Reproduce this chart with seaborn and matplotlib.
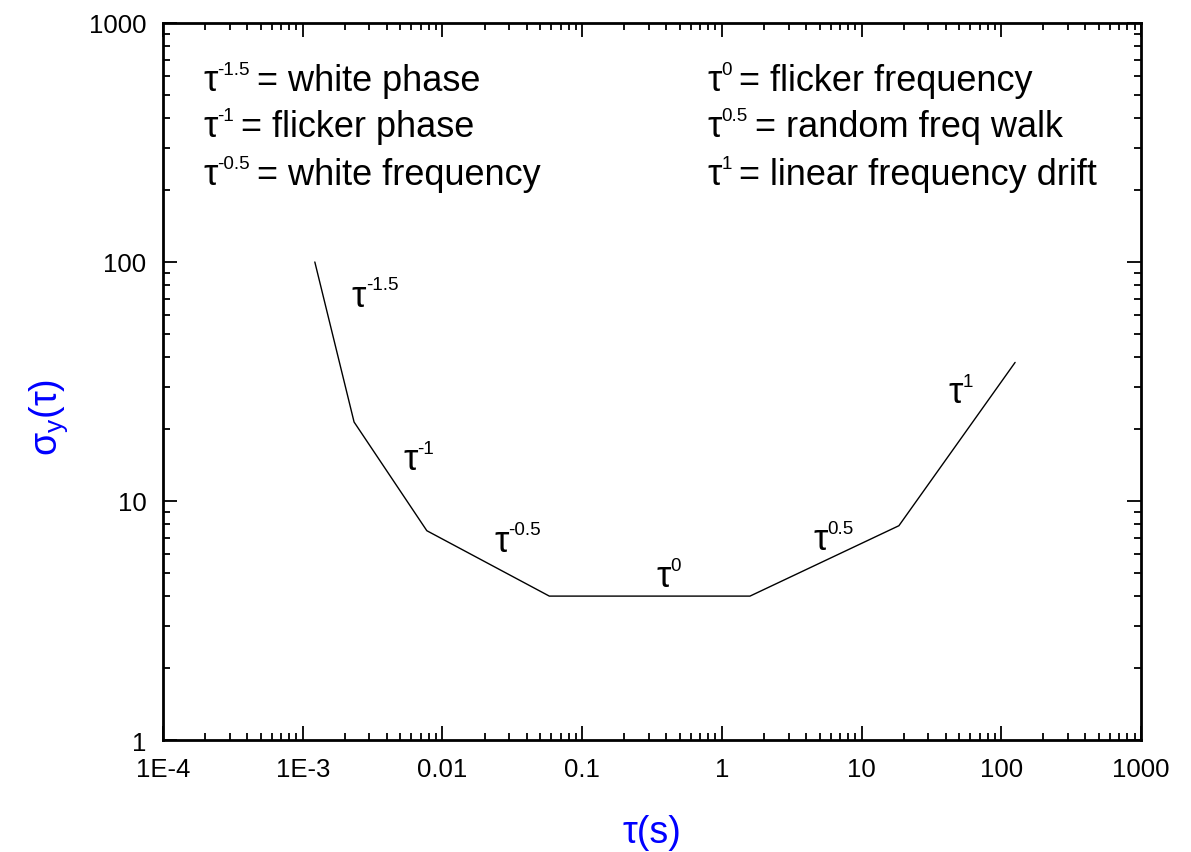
import numpy as np
import pandas as pd
import matplotlib
matplotlib.use("Agg")
import matplotlib.pyplot as plt
from matplotlib.ticker import LogLocator, NullFormatter, FixedLocator, FixedFormatter
import seaborn as sns

# ---------------- data ----------------
tau = [1.22e-3, 2.33e-3, 7.73e-3, 0.0582, 1.59, 18.5, 125.6]
sigma = [100.0, 21.4, 7.51, 4.0, 4.0, 7.88, 38.0]

x_ticks = [1e-4, 1e-3, 1e-2, 1e-1, 1, 10, 100, 1000]
x_tick_labels = ["1E-4", "1E-3", "0.01", "0.1", "1", "10", "100", "1000"]
y_ticks = [1, 10, 100, 1000]
y_tick_labels = ["1", "10", "100", "1000"]

legend_left_exp = ["-1.5", "-1", "-0.5"]
legend_left_name = ["white phase", "flicker phase", "white frequency"]
legend_right_exp = ["0", "0.5", "1"]
legend_right_name = ["flicker frequency", "random freq walk", "linear frequency drift"]

slope_exp = ["-1.5", "-1", "-0.5", "0", "0.5", "1"]
slope_tau = [2.24e-3, 5.22e-3, 0.0234, 0.338, 4.50, 41.6]
slope_sigma = [65.6, 13.6, 6.20, 4.41, 6.30, 25.9]

x_label = "τ(s)"
y_label = r"$\mathregular{\sigma_y(\tau)}$"

# ---------------- style ----------------
sns.set_theme(style="ticks")
plt.rcParams["font.family"] = ["Liberation Sans", "DejaVu Sans"]
plt.rcParams["mathtext.fontset"] = "custom"
plt.rcParams["mathtext.rm"] = "Liberation Sans"
plt.rcParams["mathtext.it"] = "Liberation Sans"
plt.rcParams["text.color"] = "black"
plt.rcParams["axes.labelcolor"] = "black"

MAIN_FS = 26
SUP_FS = 13.5
RISE = 11.7

fig = plt.figure(figsize=(11.91, 8.53), dpi=100)
ax = fig.add_axes([0.1369, 0.1313, 0.8211, 0.8406])

df = pd.DataFrame({"tau": tau, "sigma": sigma})
sns.lineplot(data=df, x="tau", y="sigma", ax=ax, color="black", linewidth=1.0,
             sort=False, estimator=None)

ax.set_xscale("log")
ax.set_yscale("log")
ax.set_xlim(x_ticks[0], x_ticks[-1])
ax.set_ylim(y_ticks[0], y_ticks[-1])

ax.xaxis.set_major_locator(FixedLocator(x_ticks))
ax.xaxis.set_major_formatter(FixedFormatter(x_tick_labels))
ax.yaxis.set_major_locator(FixedLocator(y_ticks))
ax.yaxis.set_major_formatter(FixedFormatter(y_tick_labels))
ax.xaxis.set_minor_locator(LogLocator(base=10, subs=np.arange(2, 10), numticks=100))
ax.yaxis.set_minor_locator(LogLocator(base=10, subs=np.arange(2, 10), numticks=100))
ax.xaxis.set_minor_formatter(NullFormatter())
ax.yaxis.set_minor_formatter(NullFormatter())

ax.tick_params(which="both", direction="in", top=True, right=True,
               color="black", width=1.3, labelcolor="black")
ax.tick_params(which="major", length=10, labelsize=18.5, pad=12)
ax.tick_params(which="minor", length=5)
for sp in ax.spines.values():
    sp.set_linewidth(2.0)
    sp.set_color("black")

ax.set_xlabel(x_label, fontsize=27, color="#0000FF")
ax.set_ylabel(y_label, fontsize=27, color="#0000FF")
ax.xaxis.set_label_coords(0.5, -0.103)
ax.yaxis.set_label_coords(-0.095, 0.452)


def tau_power(x, y, exp, coords):
    trans = ax.transData if coords == "data" else ax.transAxes
    t = ax.text(x, y, "τ", transform=trans, fontsize=MAIN_FS,
                ha="left", va="baseline")
    s = ax.annotate(exp, xy=(1, y), xycoords=(t, coords), xytext=(0, RISE),
                    textcoords="offset points", fontsize=SUP_FS,
                    ha="left", va="baseline")
    return s


# legend-like description text
rows_y = [0.9066, 0.8424, 0.7755]
for col_x, exps, names in [(0.0409, legend_left_exp, legend_left_name),
                           (0.5562, legend_right_exp, legend_right_name)]:
    for yy, e, n in zip(rows_y, exps, names):
        s = tau_power(col_x, yy, e, "axes fraction")
        ax.annotate("= " + n, xy=(1, yy), xycoords=(s, "axes fraction"),
                    xytext=(5, 0), textcoords="offset points",
                    fontsize=MAIN_FS, ha="left", va="baseline")

# slope labels along the curve
for xx, yy, e in zip(slope_tau, slope_sigma, slope_exp):
    tau_power(xx, yy, e, "data")

fig.savefig("out.png", dpi=100)
